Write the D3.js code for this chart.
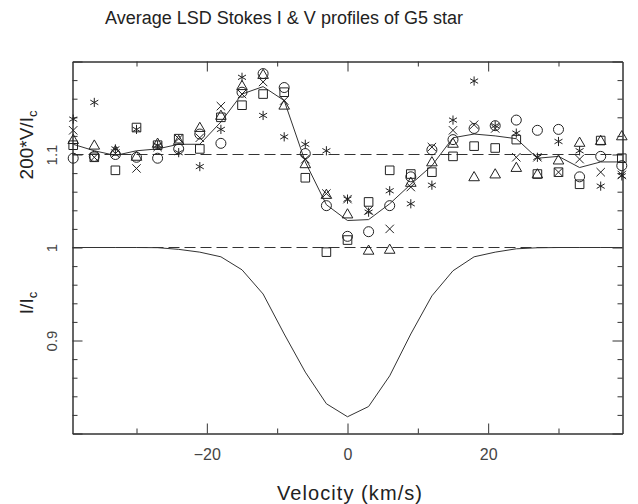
<!DOCTYPE html>
<html>
<head>
<meta charset="utf-8">
<script src="https://cdn.jsdelivr.net/npm/d3@7"></script>
<style>
  body { margin: 0; background: #fff; }
  svg { display: block; }
  text { font-family: "Liberation Sans", Arial, sans-serif; }
</style>
</head>
<body>
<svg id="chart" width="638" height="504"></svg>
<script>
// Velocity grid (km/s) shared by every profile
const velocity = [-39, -36, -33, -30, -27, -24, -21, -18, -15, -12, -9, -6, -3, 0,
                  3, 6, 9, 12, 15, 18, 21, 24, 27, 30, 33, 36, 39];

// Stokes I profile, I/Ic
const stokesI = [1.000, 1.000, 1.000, 1.000, 0.9998, 0.998, 0.995, 0.990, 0.976, 0.950,
                 0.907, 0.866, 0.832, 0.818, 0.829, 0.862, 0.907, 0.948, 0.975, 0.990,
                 0.995, 0.9986, 0.9997, 1.000, 1.000, 1.000, 1.000];

// Stokes V profiles, shown as 1.1 + 200*V/Ic
const vMean = [1.111, 1.104, 1.099, 1.104, 1.106, 1.111, 1.111, 1.135, 1.165, 1.173,
               1.158, 1.092, 1.046, 1.029, 1.030, 1.047, 1.068, 1.088, 1.118, 1.122,
               1.120, 1.117, 1.096, 1.098, 1.086, 1.092, 1.092];
const vCircle = [1.096, 1.098, 1.100, 1.097, 1.096, 1.106, 1.122, 1.112, 1.167, 1.187,
                 1.172, 1.101, 1.045, 1.012, 1.017, 1.045, 1.076, 1.105, 1.116, 1.128,
                 1.131, 1.137, 1.126, 1.127, 1.076, 1.098, 1.088];
const vSquare = [1.110, 1.097, 1.083, 1.129, 1.110, 1.117, 1.106, 1.140, 1.153, 1.165,
                 1.167, 1.075, 0.995, 1.008, 1.049, 1.083, 1.079, 1.081, 1.098, 1.109,
                 1.107, 1.116, 1.079, 1.081, 1.068, 1.115, 1.096];
const vTriangle = [1.116, 1.110, 1.104, 1.098, 1.112, 1.115, 1.129, 1.142, 1.174, 1.186,
                   1.153, 1.090, 1.057, 1.036, 0.997, 0.998, 1.070, 1.092, 1.112, 1.076,
                   1.079, 1.086, 1.079, 1.094, 1.113, 1.115, 1.120];
const vCross = [1.126, 1.097, 1.101, 1.085, 1.108, 1.117, 1.118, 1.152, 1.165, 1.178,
                1.158, 1.095, 1.058, 1.052, 1.040, 1.020, 1.065, 1.108, 1.126, 1.132,
                1.128, 1.097, 1.097, 1.081, 1.095, 1.081, 1.078];
const vStar = [1.138, 1.156, 1.106, 1.127, 1.110, 1.102, 1.087, 1.127, 1.183, 1.142,
               1.119, 1.111, 1.104, 1.052, 1.038, 1.061, 1.047, 1.067, 1.137, 1.179,
               1.131, 1.123, 1.097, 1.114, 1.104, 1.066, 1.077];

// Axis ticks and reference levels
const xMajorTicks = [-20, 0, 20];
const xMinorTicks = [-30, -10, 10, 30];
const yMajorTicks = [0.8, 0.9, 1.0, 1.1, 1.2];
const yTickLabels = [0.9, 1.0, 1.1];
const refLevels = [1.0, 1.1];

const titleText = "Average LSD Stokes I & V profiles of G5 star";
const xTitle = "Velocity (km/s)";

const svg = d3.select("#chart");
svg.append("rect").attr("width", 638).attr("height", 504).attr("fill", "#fff");

const box = { left: 72.5, right: 622.5, top: 61.5, bottom: 433.5 };
const x = d3.scaleLinear().domain([-39.1, 39.1]).range([box.left, box.right]);
const y = d3.scaleLinear().domain([0.8, 1.2]).range([box.bottom, box.top]);

const ink = "#222";
const yMinorTicks = y.ticks(20).filter(d => Math.abs(d * 10 - Math.round(d * 10)) > 1e-6);

// ---- axes: major and minor ticks on all four sides, pointing inward ----
function styleAxis(g) {
  g.selectAll(".domain").attr("stroke", "#333").attr("stroke-width", 1);
  g.selectAll(".tick line").attr("stroke", "#333").attr("stroke-width", 1);
}

svg.append("g").attr("transform", `translate(0,${box.bottom})`)
  .call(d3.axisBottom(x).tickValues(xMajorTicks).tickSizeInner(-10).tickSizeOuter(0)
    .tickPadding(15).tickFormat(d3.format("d")))
  .call(styleAxis)
  .call(g => g.selectAll("text").attr("font-size", 16).attr("fill", "#444")
    .attr("font-family", "Liberation Sans, Arial, sans-serif"));
svg.append("g").attr("transform", `translate(0,${box.bottom})`)
  .call(d3.axisBottom(x).tickValues(xMinorTicks).tickSizeInner(-5).tickSizeOuter(0).tickFormat(""))
  .call(styleAxis);

svg.append("g").attr("transform", `translate(0,${box.top})`)
  .call(d3.axisTop(x).tickValues(xMajorTicks).tickSizeInner(-10).tickSizeOuter(0).tickFormat(""))
  .call(styleAxis);
svg.append("g").attr("transform", `translate(0,${box.top})`)
  .call(d3.axisTop(x).tickValues(xMinorTicks).tickSizeInner(-5).tickSizeOuter(0).tickFormat(""))
  .call(styleAxis);

const yLabelFmt = d => yTickLabels.some(v => Math.abs(v - d) < 1e-9) ? String(+d.toFixed(1)) : "";
svg.append("g").attr("transform", `translate(${box.left},0)`)
  .call(d3.axisLeft(y).tickValues(yMajorTicks).tickSizeInner(-10).tickSizeOuter(0).tickFormat(yLabelFmt))
  .call(styleAxis)
  .call(g => g.selectAll("text")
    .attr("x", null).attr("dy", null)
    .attr("transform", "translate(-16,0) rotate(-90)")
    .attr("text-anchor", "middle")
    .attr("font-size", 15).attr("fill", "#444")
    .attr("font-family", "Liberation Sans, Arial, sans-serif"));
svg.append("g").attr("transform", `translate(${box.left},0)`)
  .call(d3.axisLeft(y).tickValues(yMinorTicks).tickSizeInner(-5).tickSizeOuter(0).tickFormat(""))
  .call(styleAxis);

svg.append("g").attr("transform", `translate(${box.right},0)`)
  .call(d3.axisRight(y).tickValues(yMajorTicks).tickSizeInner(-10).tickSizeOuter(0).tickFormat(""))
  .call(styleAxis);
svg.append("g").attr("transform", `translate(${box.right},0)`)
  .call(d3.axisRight(y).tickValues(yMinorTicks).tickSizeInner(-5).tickSizeOuter(0).tickFormat(""))
  .call(styleAxis);

// ---- dashed reference levels (I continuum and V zero) ----
svg.append("g").selectAll("line").data(refLevels).join("line")
  .attr("x1", box.left).attr("x2", box.right)
  .attr("y1", d => y(d)).attr("y2", d => y(d))
  .attr("stroke", "#333").attr("stroke-width", 1).attr("stroke-dasharray", "11,5");

// ---- profiles ----
const line = d3.line().x(d => x(d[0])).y(d => y(d[1]));
svg.append("path").datum(d3.zip(velocity, stokesI)).attr("d", line)
  .attr("fill", "none").attr("stroke", "#333").attr("stroke-width", 1);
svg.append("path").datum(d3.zip(velocity, vMean)).attr("d", line)
  .attr("fill", "none").attr("stroke", "#333").attr("stroke-width", 1);

// ---- individual V profiles as symbols ----
const shapes = {
  circle: "M5,0A5,5 0 1,1 -5,0A5,5 0 1,1 5,0Z",
  square: "M-4.3,-4.3H4.3V4.3H-4.3Z",
  triangle: "M0,-5.3L5.3,3.9H-5.3Z",
  cross: "M-4.2,-4.2L4.2,4.2M-4.2,4.2L4.2,-4.2",
  star: "M0,-4.6V4.6M-4,-2.3L4,2.3M-4,2.3L4,-2.3"
};
const series = [
  { shape: "circle", values: vCircle },
  { shape: "square", values: vSquare },
  { shape: "triangle", values: vTriangle },
  { shape: "cross", values: vCross },
  { shape: "star", values: vStar }
];
series.forEach(s => {
  svg.append("g").selectAll("path").data(d3.zip(velocity, s.values)).join("path")
    .attr("transform", d => `translate(${x(d[0])},${y(d[1])})`)
    .attr("d", shapes[s.shape])
    .attr("fill", "none").attr("stroke", ink).attr("stroke-width", 1);
});

// ---- titles ----
svg.append("text").attr("x", 105).attr("y", 24)
  .attr("font-size", 18).attr("fill", ink)
  .attr("textLength", 358).text(titleText);

svg.append("text").attr("x", 277).attr("y", 500)
  .attr("font-size", 20).attr("fill", ink)
  .attr("textLength", 145).text(xTitle);

const vLabel = svg.append("text").attr("transform", "translate(33,145) rotate(-90)")
  .attr("text-anchor", "middle").attr("font-size", 19).attr("fill", ink);
vLabel.append("tspan").text("200*V/I");
vLabel.append("tspan").attr("font-size", 13).attr("dy", 4).text("c");

const iLabel = svg.append("text").attr("transform", "translate(33,303) rotate(-90)")
  .attr("text-anchor", "middle").attr("font-size", 19).attr("fill", ink);
iLabel.append("tspan").text("I/I");
iLabel.append("tspan").attr("font-size", 13).attr("dy", 4).text("c");
</script>
</body>
</html>
